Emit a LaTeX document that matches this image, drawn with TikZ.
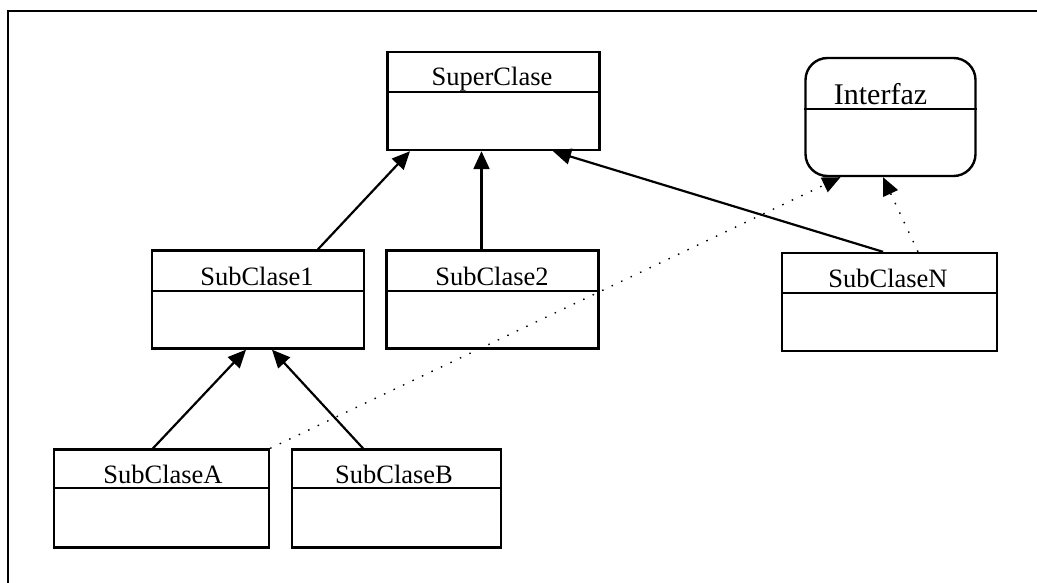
\documentclass[tikz,border=0pt]{standalone}
\usepackage{fontspec}
\setmainfont{Liberation Serif}
\usetikzlibrary{arrows.meta}
\begin{document}
\begin{tikzpicture}[x=1pt,y=-1pt,
  classbox/.style={draw, line width=2.4pt, minimum width=#1, inner sep=0pt, minimum height=98pt},
  classname/.style={anchor=base, inner sep=0pt, font=\fontsize{26.5}{30}\selectfont},
  divider/.style={line width=2pt},
  inherit/.style={line width=2.2pt, -{Triangle[length=18pt,width=16pt]}},
  realize/.style={line width=1.4pt, dash pattern=on 1.5pt off 9pt, -{Triangle[length=18pt,width=16pt]}}]
\useasboundingbox (0,0) rectangle (1037,583);

% outer frame
\draw[line width=2.4pt] (8,583) -- (8,11) -- (1037,11);

% classes
\node[classbox=212pt] (sup) at (493.5,101) {};
\node[classbox=212pt] (s1)  at (258,299.5) {};
\node[classbox=212pt] (s2)  at (492.5,299.5) {};
\node[classbox=215pt] (sN)  at (889.5,302) {};
\node[classbox=215pt] (sA)  at (161.5,498.5) {};
\node[classbox=209pt] (sB)  at (396.5,498.5) {};
\node[draw, line width=2.4pt, rounded corners=22pt, minimum width=170pt,
      minimum height=118pt, inner sep=0pt] (intf) at (890.5,117) {};

% compartment separators
\draw[divider] (sup.west |- 0,92)  -- (sup.east |- 0,92);
\draw[divider] (s1.west |- 0,291)  -- (s1.east |- 0,291);
\draw[divider] (s2.west |- 0,291)  -- (s2.east |- 0,291);
\draw[divider] (sN.west |- 0,293)  -- (sN.east |- 0,293);
\draw[divider] (sA.west |- 0,488)  -- (sA.east |- 0,488);
\draw[divider] (sB.west |- 0,488)  -- (sB.east |- 0,488);
\draw[divider] (intf.west |- 0,109) -- (intf.east |- 0,109);

% class names
\node[classname] (tsup) at (492,86)  {SuperClase};
\node[classname] (ts1)  at (257,285) {SubClase1};
\node[classname] (ts2)  at (492,285) {SubClase2};
\node[classname] (tsN)  at (888,287) {SubClaseN};
\node[classname] (tsA)  at (163,483) {SubClaseA};
\node[classname] (tsB)  at (394,483) {SubClaseB};
\node[classname, font=\fontsize{30}{34}\selectfont] (tintf) at (880.5,105) {Interfaz};

% generalisations
\draw[inherit] ([xshift=60pt]s1.north)    -- ([xshift=-83.5pt]sup.south);
\draw[inherit] ([xshift=-11pt]s2.north)   -- ([xshift=-12pt]sup.south);
\draw[inherit] ([xshift=-6.5pt]sN.north)  -- ([xshift=59.5pt]sup.south);
\draw[inherit] ([xshift=-8.5pt]sA.north)  -- ([xshift=-12pt]s1.south);
\draw[inherit] ([xshift=-33.5pt]sB.north) -- ([xshift=14pt]s1.south);

% realisations of the interface
\draw[realize] (sA.north east)            -- ([xshift=-50pt]intf.south);
\draw[realize] ([xshift=28.5pt]sN.north)  -- ([xshift=-7.5pt]intf.south);
\end{tikzpicture}
\end{document}
